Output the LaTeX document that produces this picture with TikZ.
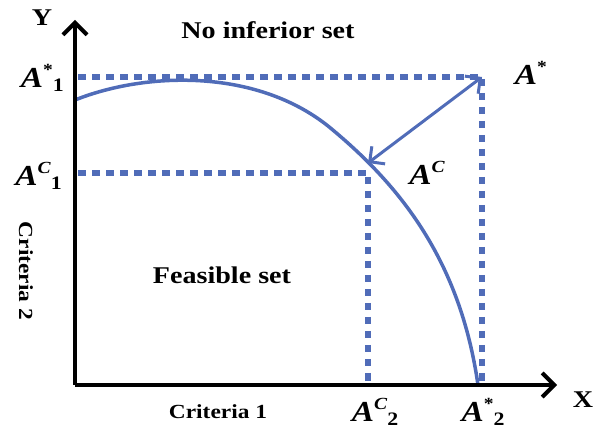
\documentclass[tikz,border=0pt]{standalone}
\usepackage{fontspec}
\setmainfont{Liberation Serif}
\usetikzlibrary{arrows.meta}
\definecolor{cblue}{RGB}{80,108,184}
\newcommand\albl[2]{\scalebox{1.15}[1]{\textbf{\textit{A}}\raisebox{0.42em}{\fontsize{17}{17}\selectfont\textbf{#1}}\raisebox{-0.12em}{\fontsize{19}{19}\selectfont\textbf{#2}}}}
\newcommand\wide[1]{\scalebox{1.17}[1]{#1}}
\begin{document}
\begin{tikzpicture}[x=1pt,y=-1pt,
  axis/.style={line width=4.5pt,-{Straight Barb[length=12pt,width=24pt,line width=4pt]}},
  dotline/.style={cblue,line width=6.5pt,dash pattern=on 7.5pt off 6.5pt},
  curve/.style={cblue,line width=3.5pt},
  dblarrow/.style={cblue,line width=3pt,{Straight Barb[length=11pt,width=22pt,line width=3pt]}-{Straight Barb[length=11pt,width=22pt,line width=3pt]}},
  txt/.style={font=\fontsize{24}{24}\selectfont\bfseries,inner sep=0pt},
  smtxt/.style={font=\fontsize{20}{20}\selectfont\bfseries,inner sep=0pt},
  alab/.style={font=\fontsize{29}{29}\selectfont,inner sep=0pt}]
\useasboundingbox (0,0) rectangle (600,438);
\coordinate (O) at (75,385);
\coordinate (Ytop) at (75,20);
\coordinate (Xend) at (557,385);
\coordinate (Astar) at (482,77);
\coordinate (AC) at (368,163);
\coordinate (Ay1) at (78,77);
\coordinate (Ay2) at (78,173);
\coordinate (AstarB) at (482,385);
\coordinate (ACB) at (368,385);
% dotted guides
\draw[dotline] (Ay1) -- (Astar) -- (AstarB);
\draw[dotline] (Ay2) -- (AC |- Ay2) -- (ACB);
% curve
\draw[curve] (75,100) .. controls (145,72) and (255,68) .. (328,126)
  .. controls (400,185) and (460,260) .. (478,385);
% axes
\draw[axis] (O) -- (Ytop);
\draw[axis] (O) -- (Xend);
% double arrow
\draw[dblarrow] (AC) -- (Astar);
% labels
\node[txt] (ylab) at (42,18) {\wide{Y}};
\node[txt] (xlab) at (583,400) {\wide{X}};
\node[txt] (noinf) at (268,30) {\wide{No inferior set}};
\node[txt] (feas) at (222,275) {\wide{Feasible set}};
\node[smtxt] (c1) at (218,412) {\wide{Criteria 1}};
\node[smtxt,rotate=-90] (c2) at (26,271) {\wide{Criteria 2}};
\node[alab,anchor=east] (la1) at (64,78) {\albl{*}{1}};
\node[alab,anchor=east] (lac1) at (62,176) {\albl{\textit{C}}{1}};
\node[alab] (lastar) at (531,75) {\albl{*}{}};
\node[alab] (lac) at (427,175) {\albl{\textit{C}}{}};
\node[alab] (lac2) at (375,412) {\albl{\textit{C}}{2}};
\node[alab] (las2) at (483,412) {\albl{*}{2}};
\end{tikzpicture}
\end{document}
